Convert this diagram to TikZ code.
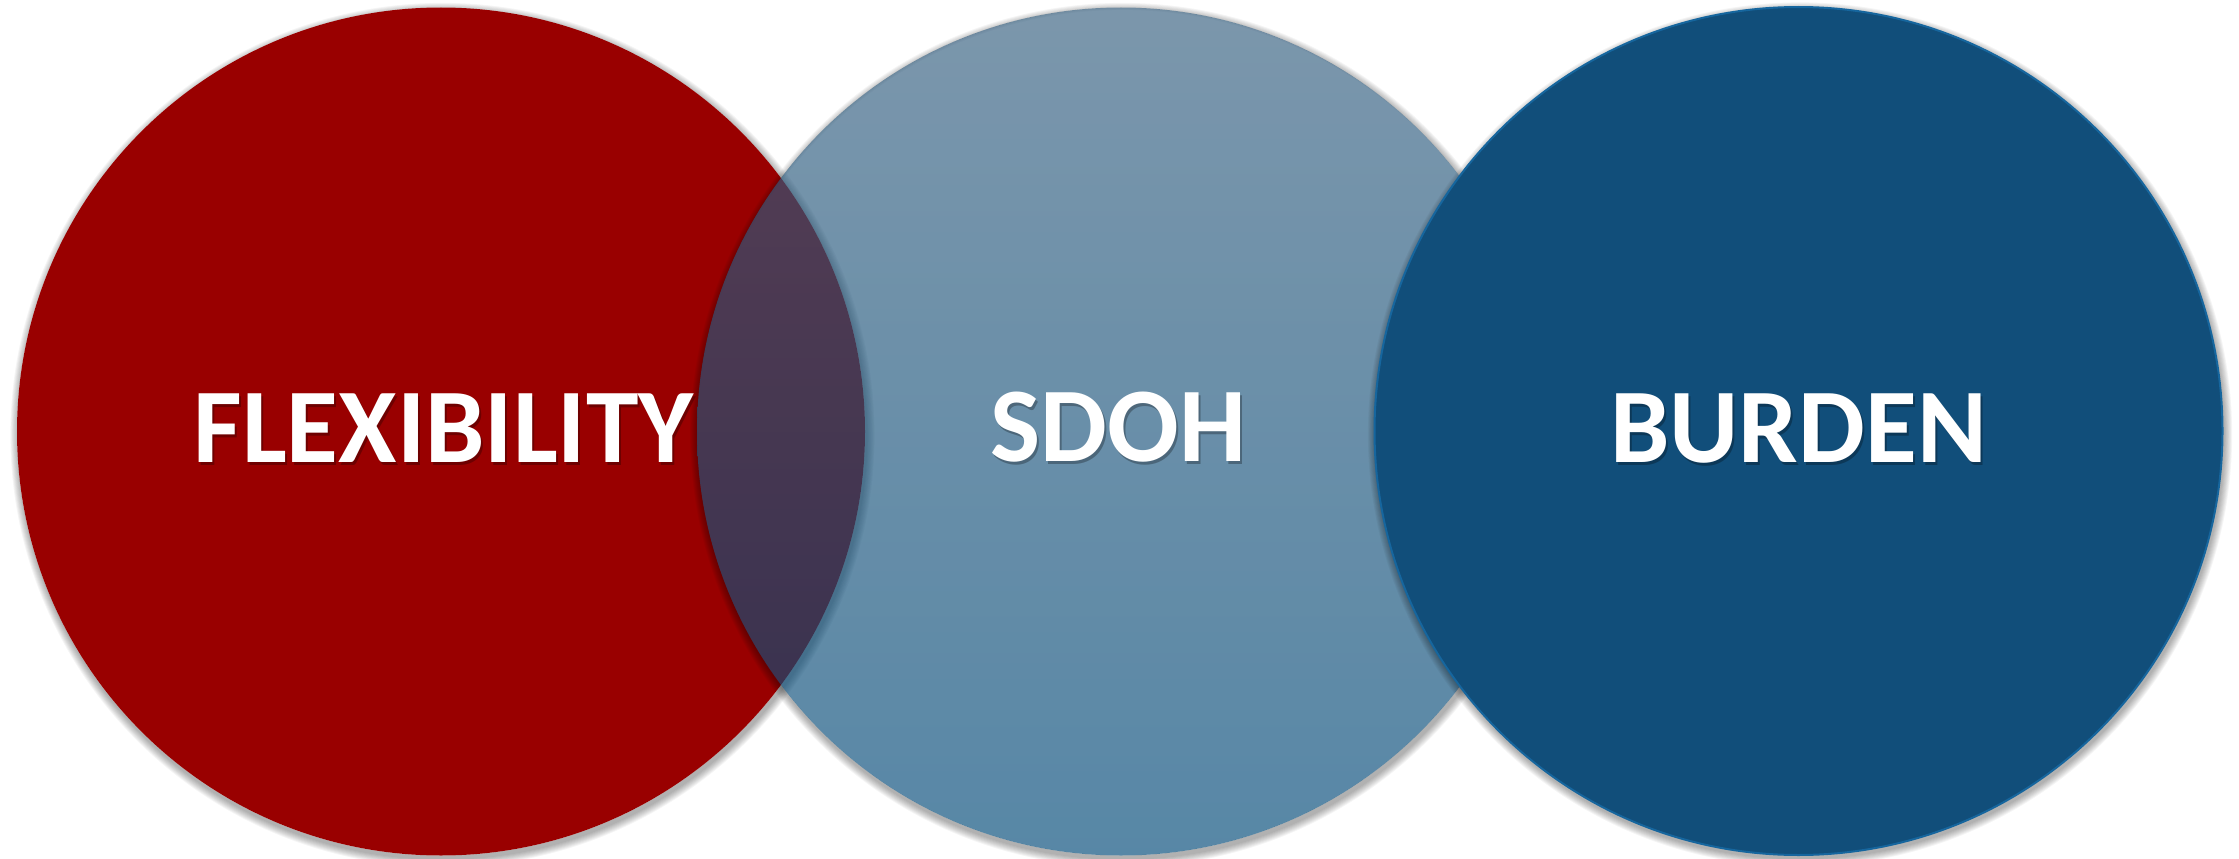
\documentclass[tikz,border=0pt]{standalone}
\usepackage{fontspec}
\setmainfont{Carlito}
\usetikzlibrary{calc}
\definecolor{flexred}{RGB}{153,0,0}
\definecolor{midtop}{RGB}{55,96,128}
\definecolor{midbot}{RGB}{0,73,120}
\definecolor{burdenblue}{RGB}{17,78,122}
\definecolor{burdenedge}{RGB}{22,102,158}
\tikzset{
  bigcircle/.style={circle, inner sep=0pt, minimum size=848pt},
  lbl/.style={anchor=base, text=white, font=\fontsize{106pt}{110pt}\selectfont\bfseries},
  lblshadow/.style={anchor=base, text=black, text opacity=0.28, font=\fontsize{106pt}{110pt}\selectfont\bfseries}
}
\newcommand\mysoftshadow[1]{%
  \foreach \i in {1,...,9}{%
    \fill[black, opacity=0.04, even odd rule] ($(#1)+(1.5,3.5)$) circle[radius={(424+\i*0.9)*1pt}] (#1) circle[radius=424pt];
  }%
}
\begin{document}
\begin{tikzpicture}[x=1pt,y=-1pt]
\useasboundingbox (0,0) rectangle (2239,859);
\coordinate (cf) at (441,431.5);
\coordinate (cs) at (1121,431.5);
\coordinate (cb) at (1798.5,431);
% left circle
\mysoftshadow{cf}
\node[bigcircle, fill=flexred] (flex) at (cf) {};
\node[lblshadow] (flextxts) at ($(443.5,462)+(2,3)$) {FLEXIBILITY};
\node[lbl] (flextxt) at (443.5,462) {FLEXIBILITY};
% middle circle
\mysoftshadow{cs}
\node[bigcircle, top color=midtop, bottom color=midbot, fill opacity=0.66] (sdoh) at (cs) {};
\node[lblshadow] (sdohtxts) at ($(1118.5,461)+(2,3)$) {SDOH};
\node[lbl] (sdohtxt) at (1118.5,461) {SDOH};
% right circle
\mysoftshadow{cb}
\node[bigcircle, fill=burdenblue, draw=burdenedge, line width=2pt] (burden) at (cb) {};
\node[lblshadow] (burdentxts) at ($(1798.5,462)+(2,3)$) {BURDEN};
\node[lbl] (burdentxt) at (1798.5,462) {BURDEN};
\end{tikzpicture}
\end{document}
